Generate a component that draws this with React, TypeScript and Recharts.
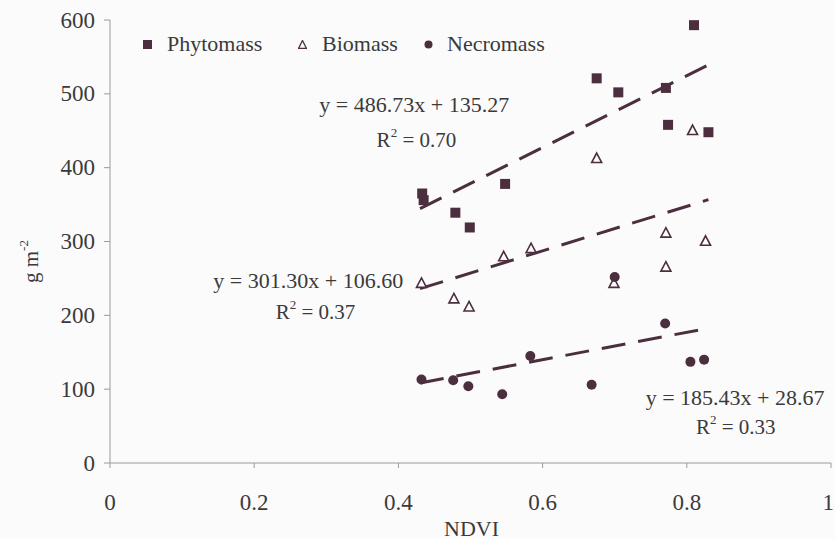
import React from 'react';
import { ScatterChart, Scatter, XAxis, YAxis, Legend, ReferenceDot, Label } from 'recharts';

const FONT = "'Liberation Serif', 'Times New Roman', Times, serif";
const MARK = '#4b2f3e';
const TEXT = '#3a3a3a';
const AXIS = '#9a9a9a';

// ---- data ----
const seriesNames = ['Phytomass', 'Biomass', 'Necromass'];

const phytoNdvi = [0.433, 0.435, 0.479, 0.499, 0.548, 0.675, 0.705, 0.771, 0.774, 0.81, 0.83];
const phytoMass = [365, 356, 339, 319, 378, 521, 502, 508, 458, 593, 448];

const bioNdvi = [0.432, 0.477, 0.498, 0.546, 0.584, 0.675, 0.699, 0.771, 0.771, 0.808, 0.826];
const bioMass = [244, 223, 212, 280, 291, 413, 244, 312, 266, 451, 301];

const necroNdvi = [0.432, 0.476, 0.497, 0.544, 0.583, 0.668, 0.7, 0.77, 0.805, 0.824];
const necroMass = [113, 112, 104, 93, 145, 106, 252, 189, 137, 140];

const trendSlopes = [486.73, 301.3, 185.43];
const trendIntercepts = [135.27, 106.6, 28.67];
const trendRange = [0.43, 0.83];

const eqLabels = ['y = 486.73x + 135.27', 'y = 301.30x + 106.60', 'y = 185.43x + 28.67'];
const r2Labels = ['0.70', '0.37', '0.33'];

const xTicks = [0, 0.2, 0.4, 0.6, 0.8, 1];
const yTicks = [0, 100, 200, 300, 400, 500, 600];

// annotation anchors (data coordinates)
const eqAnchorX = [0.422, 0.275, 0.867];
const eqAnchorY = [485, 247, 89];
const r2AnchorX = [0.425, 0.285, 0.868];
const r2AnchorY = [438, 205, 49];

const zip = (xs: number[], ys: number[]) => xs.map((x, i) => ({ x, y: ys[i] }));
const phytoData = zip(phytoNdvi, phytoMass);
const bioData = zip(bioNdvi, bioMass);
const necroData = zip(necroNdvi, necroMass);
const trendData = trendSlopes.map((s, i) =>
  trendRange.map((x) => ({ x, y: s * x + trendIntercepts[i] }))
);

const txtStyle: React.CSSProperties = { fontFamily: FONT };

const SquareShape = (p: any) => (
  <rect x={p.cx - 5} y={p.cy - 5} width={10} height={10} fill={MARK} />
);
const CircleShape = (p: any) => <circle cx={p.cx} cy={p.cy} r={5} fill={MARK} />;
const TriangleShape = (p: any) => (
  <polygon
    points={`${p.cx},${p.cy - 5} ${p.cx + 5},${p.cy + 4.5} ${p.cx - 5},${p.cy + 4.5}`}
    fill="#fdfcfd"
    stroke={MARK}
    strokeWidth={1.6}
  />
);
const NoShape = () => <g />;

const LegendContent = () => {
  const items = [
    { left: 143, textLeft: 167, icon: <rect x={0} y={0} width={9} height={9} fill={MARK} /> },
    {
      left: 298,
      textLeft: 322,
      icon: <polygon points="4.5,0.5 8.5,8.5 0.5,8.5" fill="none" stroke={MARK} strokeWidth={1.3} />,
    },
    { left: 424, textLeft: 447, icon: <circle cx={4.5} cy={4.5} r={4} fill={MARK} /> },
  ];
  return (
    <div style={{ position: 'relative', width: 835, height: 60 }}>
      {items.map((it, i) => (
        <React.Fragment key={i}>
          <svg width={9} height={9} style={{ position: 'absolute', left: it.left, top: 39.5 }}>
            {it.icon}
          </svg>
          <span
            style={{
              position: 'absolute',
              left: it.textLeft,
              top: 31,
              fontFamily: FONT,
              fontSize: 22,
              lineHeight: '26px',
              color: TEXT,
              whiteSpace: 'nowrap',
            }}
          >
            {seriesNames[i]}
          </span>
        </React.Fragment>
      ))}
    </div>
  );
};

const EqLabel = (text: string) => (props: any) => {
  const vb = props.viewBox || {};
  const x = vb.x + (vb.width || 0) / 2;
  const y = vb.y + (vb.height || 0) / 2;
  return (
    <text x={x} y={y} textAnchor="middle" dominantBaseline="central" style={txtStyle} fontFamily={FONT} fontSize={22} fill={TEXT}>
      {text}
    </text>
  );
};

const R2Label = (val: string) => (props: any) => {
  const vb = props.viewBox || {};
  const x = vb.x + (vb.width || 0) / 2;
  const y = vb.y + (vb.height || 0) / 2;
  return (
    <text x={x} y={y} textAnchor="middle" dominantBaseline="central" style={txtStyle} fontFamily={FONT} fontSize={21} fill={TEXT}>
      <tspan>R</tspan>
      <tspan dy={-8} fontSize={13}>2</tspan>
      <tspan dy={8}>{` = ${val}`}</tspan>
    </text>
  );
};

const YLabel = (props: any) => {
  const vb = props.viewBox;
  const cx = vb.x + 31;
  const cy = vb.y + vb.height / 2 + 20;
  return (
    <text
      x={cx}
      y={cy}
      transform={`rotate(-90 ${cx} ${cy})`}
      textAnchor="middle"
      dominantBaseline="central"
      style={txtStyle}
      fontFamily={FONT}
      fontSize={21}
      fill={TEXT}
    >
      <tspan>g m</tspan>
      <tspan dy={-8} fontSize={13}>-2</tspan>
    </text>
  );
};

const XLabel = (props: any) => {
  const vb = props.viewBox;
  const cx = vb.x + vb.width / 2 + 1;
  const cy = vb.y + 65;
  return (
    <text x={cx} y={cy} textAnchor="middle" dominantBaseline="central" style={txtStyle} fontFamily={FONT} fontSize={22} fill={TEXT}>
      NDVI
    </text>
  );
};

const AxisTick = (anchor: 'middle' | 'end', dy: number) => (props: any) => {
  const { x, y, payload } = props;
  const isLast = anchor === 'middle' && payload.value === 1;
  return (
    <text
      x={isLast ? x + 3 : x}
      y={y}
      dy={dy}
      textAnchor={isLast ? 'end' : anchor}
      dominantBaseline="central"
      style={txtStyle}
      fontFamily={FONT}
      fontSize={23}
      fill={TEXT}
    >
      {String(payload.value)}
    </text>
  );
};

export default function App() {
  return (
    <div
      style={{
        position: 'absolute',
        left: 0,
        top: 0,
        width: 835,
        height: 539,
        background: '#fcfbfc',
        fontFamily: FONT,
      }}
    >
      <ScatterChart width={835} height={539} margin={{ top: 20, right: 4, left: 0, bottom: 0 }} style={txtStyle}>
        <XAxis
          type="number"
          dataKey="x"
          domain={[0, 1]}
          ticks={xTicks}
          height={76}
          stroke={AXIS}
          tickSize={5}
          tickMargin={26}
          tick={AxisTick('middle', 8)}
          allowDataOverflow
        >
          <Label content={XLabel} />
        </XAxis>
        <YAxis
          type="number"
          dataKey="y"
          domain={[0, 600]}
          ticks={yTicks}
          width={110}
          stroke={AXIS}
          tickSize={6}
          tickMargin={9}
          tick={AxisTick('end', 0)}
          allowDataOverflow
        >
          <Label content={YLabel} />
        </YAxis>
        <Legend
          layout="horizontal"
          verticalAlign="middle"
          align="center"
          content={LegendContent}
          wrapperStyle={{ left: 0, top: 0, width: 835, height: 60 }}
        />
        {trendData.map((d, i) => (
          <Scatter
            key={`trend-${i}`}
            data={d}
            shape={NoShape}
            line={{ stroke: MARK, strokeWidth: 3, strokeDasharray: '24 13' }}
            legendType="none"
            isAnimationActive={false}
          />
        ))}
        <Scatter name={seriesNames[0]} data={phytoData} shape={SquareShape} isAnimationActive={false} />
        <Scatter name={seriesNames[1]} data={bioData} shape={TriangleShape} isAnimationActive={false} />
        <Scatter name={seriesNames[2]} data={necroData} shape={CircleShape} isAnimationActive={false} />
        {eqLabels.map((t, i) => (
          <ReferenceDot key={`eq-${i}`} x={eqAnchorX[i]} y={eqAnchorY[i]} r={0} stroke="none" fill="none" label={EqLabel(t)} />
        ))}
        {r2Labels.map((t, i) => (
          <ReferenceDot key={`r2-${i}`} x={r2AnchorX[i]} y={r2AnchorY[i]} r={0} stroke="none" fill="none" label={R2Label(t)} />
        ))}
      </ScatterChart>
    </div>
  );
}
